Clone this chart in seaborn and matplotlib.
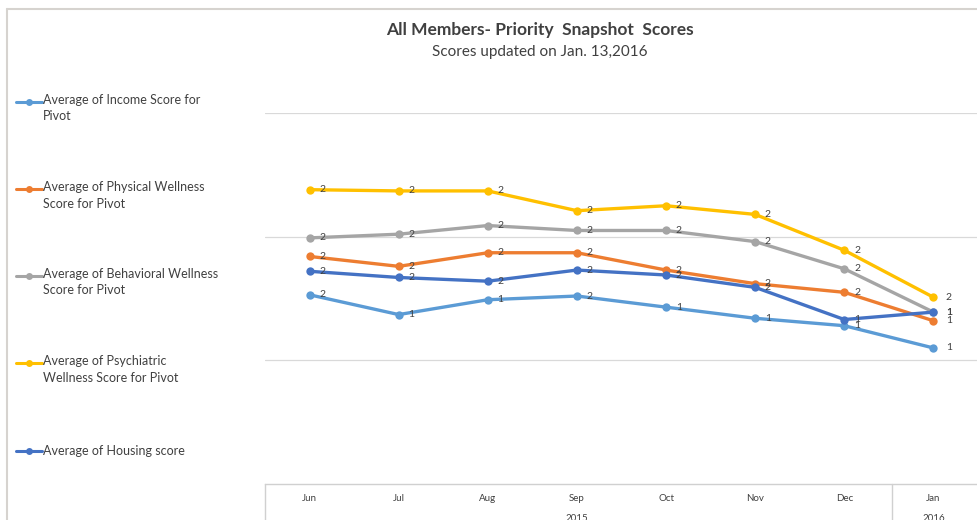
import numpy as np
import matplotlib.pyplot as plt
import seaborn as sns
import pandas as pd
from matplotlib.lines import Line2D

# Data (monthly averages, Jun 2015 - Jan 2016)
months = ['Jun', 'Jul', 'Aug', 'Sep', 'Oct', 'Nov', 'Dec', 'Jan']
years = ['2015', '2016']
income = [1.53, 1.37, 1.49, 1.52, 1.43, 1.34, 1.28, 1.10]
physical = [1.84, 1.76, 1.87, 1.87, 1.73, 1.62, 1.55, 1.32]
behavioral = [1.99, 2.02, 2.09, 2.05, 2.05, 1.96, 1.74, 1.39]
psychiatric = [2.38, 2.37, 2.37, 2.21, 2.25, 2.18, 1.89, 1.51]
housing = [1.72, 1.67, 1.64, 1.73, 1.69, 1.59, 1.33, 1.39]

series_names = ['Average of Income Score for\nPivot',
                'Average of Physical Wellness\nScore for Pivot',
                'Average of Behavioral Wellness\nScore for Pivot',
                'Average of Psychiatric\nWellness Score for Pivot',
                'Average of Housing score']
series_values = [income, physical, behavioral, psychiatric, housing]
colors = ['#5B9BD5', '#ED7D31', '#A5A5A5', '#FFC000', '#4472C4']

sns.set_style('white')
plt.rcParams['font.family'] = ['Lato', 'DejaVu Sans']

W, H = 978, 520
fig = plt.figure(figsize=(W / 100, H / 100), dpi=100)

def fx(px):
    return px / W

def fy(py):
    return 1 - py / H

# Plot area
ax = fig.add_axes([fx(265), fy(484), fx(978) - fx(265), fy(113) - fy(484)])

x = np.arange(len(months))
for name, vals, col in zip(series_names, series_values, colors):
    df = pd.DataFrame({'x': x, 'y': vals})
    sns.lineplot(data=df, x='x', y='y', color=col, marker='o', markersize=6,
                 markeredgewidth=0, linewidth=2.4, ax=ax, legend=False)
    # data labels (rounded, like the Excel chart)
    for xi, yi in zip(x, vals):
        off = 9 if xi == len(x) - 1 else 7
        ax.annotate(str(int(round(yi))), (xi, yi), xytext=(off, 0),
                    textcoords='offset points', ha='left', va='center',
                    fontsize=7.5, color='#404040')

ax.set_xlim(-0.5, len(months) - 0.5)
ax.set_ylim(0, 3)
ax.set_yticks([1, 2, 3])
ax.set_yticklabels([])
ax.grid(axis='y', color='#D9D9D9', linewidth=0.9)
ax.tick_params(left=False, bottom=False)
ax.set_xticks(x)
ax.set_xticklabels([])
ax.set_xlabel('')
ax.set_ylabel('')
for side in ['left', 'right', 'top']:
    ax.spines[side].set_visible(False)
ax.spines['bottom'].set_color('#D0D0D0')
ax.spines['bottom'].set_linewidth(1.0)

# Multi-level category axis (months, then years)
xt = ax.get_xaxis_transform()
for xi, m in zip(x, months):
    ax.text(xi, -0.038, m, transform=xt, ha='center', va='center',
            fontsize=7, color='#404040', clip_on=False)
ax.text(3, -0.093, years[0], transform=xt, ha='center', va='center',
        fontsize=7, color='#404040', clip_on=False)
ax.text(7, -0.093, years[1], transform=xt, ha='center', va='center',
        fontsize=7, color='#404040', clip_on=False)
for px in [265.5, 892]:
    fig.add_artist(Line2D([fx(px), fx(px)], [fy(484), 0], color='#D0D0D0', linewidth=1.0))

# Chart frame
fig.add_artist(Line2D([fx(7), 1], [fy(9), fy(9)], color='#D6D3CF', linewidth=1.5))
fig.add_artist(Line2D([fx(7), fx(7)], [fy(9), 0], color='#D6D3CF', linewidth=1.5))

# Titles
fig.text(fx(540), fy(30), 'All Members- Priority  Snapshot  Scores', ha='center',
         va='center', fontsize=12.5, fontweight='bold', color='#404040')
fig.text(fx(540), fy(52), 'Scores updated on Jan. 13,2016', ha='center',
         va='center', fontsize=11, color='#404040')

# Legend on the left
legend_y = [102, 189, 276, 363, 451]
for name, col, py in zip(series_names, colors, legend_y):
    fig.add_artist(Line2D([fx(16), fx(29), fx(42)], [fy(py)] * 3, color=col,
                          linewidth=2.2, marker='o', markersize=5,
                          markevery=[1], markeredgewidth=0))
    if '\n' in name:
        fig.text(fx(43), fy(py - 8), name, ha='left', va='top',
                 fontsize=9, color='#404040', linespacing=1.45)
    else:
        fig.text(fx(43), fy(py), name, ha='left', va='center',
                 fontsize=9, color='#404040')

fig.savefig('out.png', dpi=100)
